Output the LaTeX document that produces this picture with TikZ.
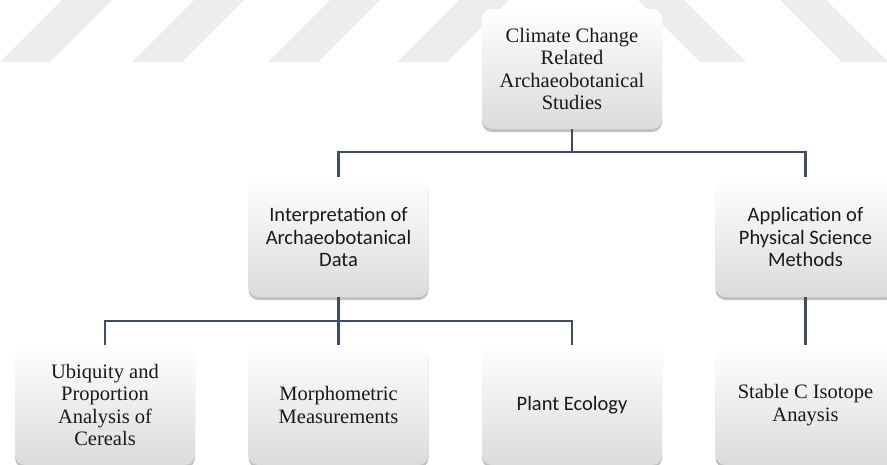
\documentclass[tikz,border=0pt]{standalone}
\usepackage{fontspec}
\setmainfont{Liberation Serif}
\newfontfamily\calibri{Carlito}
\usetikzlibrary{positioning,shadows}
\definecolor{linkblue}{HTML}{3F4C62}

\begin{document}
\begin{tikzpicture}[x=1pt,y=-1pt,node distance=48pt and 53.5pt,
  box/.style={rectangle,rounded corners=10pt,minimum width=180pt,minimum height=120pt,inner sep=2pt,outer sep=0pt,align=center,
    top color=white,middle color=white,bottom color=black!14,text=black!90,
    drop shadow={shadow xshift=0pt,shadow yshift=-3pt,opacity=0.35,fill=black!70},
    font=\fontsize{20.5}{22.5}\selectfont},
  sans/.style={font=\calibri\fontsize{20.5}{22.5}\selectfont},
  link/.style={draw=linkblue,line width=2.2pt},
  stripe/.style={fill=black!7}]

            \clip (0,0) rectangle (887,464);

            % watermark stripes
            \foreach \s in {0,132,268,397}
                \fill[stripe] (\s,62) -- (\s+50,62) -- (\s+112,0) -- (\s+62,0) -- cycle;
            \foreach \s in {638,780}
                \fill[stripe] (\s,0) -- (\s+46,0) -- (\s+108,62) -- (\s+62,62) -- cycle;

            \node[box]       (ubiq)    at (105,405)     {Ubiquity and\\Proportion\\Analysis of\\Cereals};
            \node[box]       (morph)   [right=of ubiq]  {Morphometric\\Measurements};
            \node[box,sans]  (plant)   [right=of morph] {Plant Ecology};
            \node[box]       (stable)  [right=of plant] {Stable C Isotope\\Anaysis};
            \node[box,sans]  (interp)  [above=of morph] {Interpretation of\\Archaeobotanical\\Data};
            \node[box,sans]  (appl)    [above=of stable]{Application of\\Physical Science\\Methods};
            \node[box]       (climate) [above=216pt of plant] {Climate Change\\Related\\Archaeobotanical\\Studies};

            \draw[link] (climate.south) -- ++(0,23) coordinate (hub1);
            \draw[link] (hub1) -| (interp.north);
            \draw[link] (hub1) -| (appl.north);

            \draw[link] (interp.south) -- ++(0,24) coordinate (hub2);
            \draw[link] (hub2) -| (ubiq.north);
            \draw[link] (hub2) -| (morph.north);
            \draw[link] (hub2) -| (plant.north);

            \draw[link] (appl) -- (stable);

            ;
        \end{tikzpicture}
\end{document}
